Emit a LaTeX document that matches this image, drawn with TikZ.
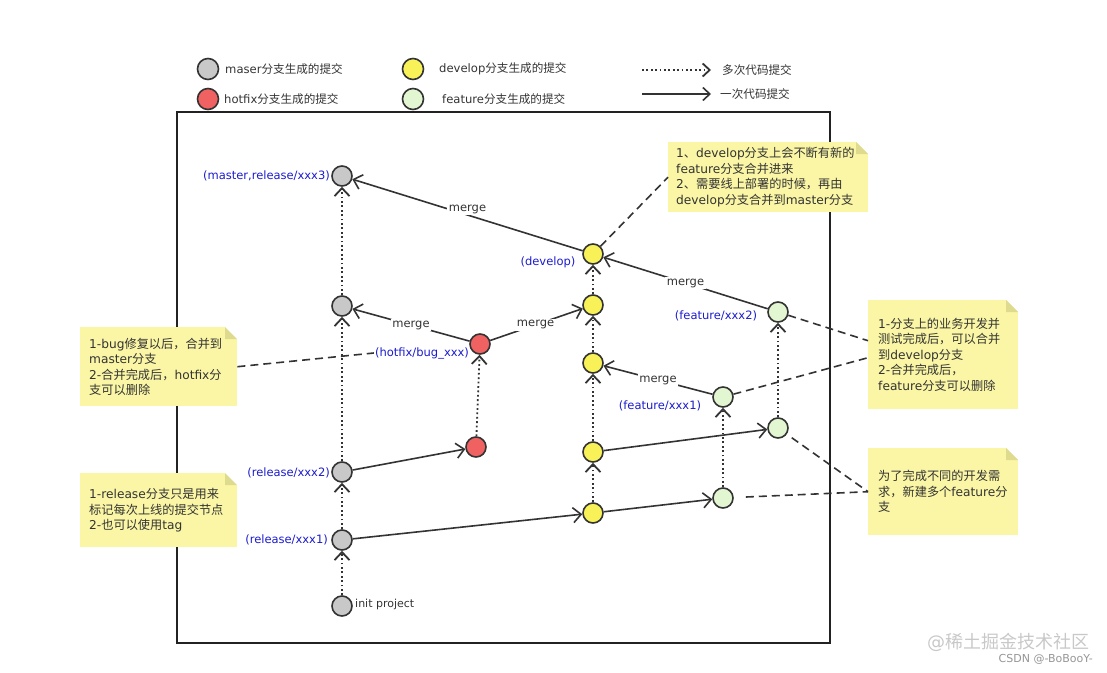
\documentclass[tikz,border=0pt]{standalone}
\usepackage{fontspec}
\setmainfont{DejaVu Sans}
\newfontfamily\zhfont{Noto Sans CJK SC}
\usetikzlibrary{arrows.meta,calc}
\XeTeXinterchartokenstate=1
\newXeTeXintercharclass\zhcls
\newcount\zhcnt
\zhcnt="3000 \loop\ifnum\zhcnt<"3040 \XeTeXcharclass\zhcnt=\zhcls \advance\zhcnt by 1 \repeat
\zhcnt="4E00 \loop\ifnum\zhcnt<"A000 \XeTeXcharclass\zhcnt=\zhcls \advance\zhcnt by 1 \repeat
\zhcnt="FF00 \loop\ifnum\zhcnt<"FFF0 \XeTeXcharclass\zhcnt=\zhcls \advance\zhcnt by 1 \repeat
\XeTeXinterchartoks 0 \zhcls = {\zhfont}
\XeTeXinterchartoks 4095 \zhcls = {\zhfont}
\XeTeXinterchartoks \zhcls 0 = {\normalfont}
\XeTeXinterchartoks \zhcls 4095 = {\normalfont}
\definecolor{linec}{RGB}{51,51,51}
\definecolor{framec}{RGB}{34,34,34}
\definecolor{graycol}{RGB}{200,200,200}
\definecolor{redcol}{RGB}{240,98,98}
\definecolor{yelcol}{RGB}{248,242,88}
\definecolor{grncol}{RGB}{226,246,210}
\definecolor{bluec}{RGB}{28,28,205}
\definecolor{notey}{RGB}{250,246,165}
\definecolor{notefold}{RGB}{222,218,142}
\definecolor{wmA}{RGB}{200,200,200}
\definecolor{wmB}{RGB}{150,150,150}
\begin{document}
\begin{tikzpicture}[x=1pt,y=-1pt,
  commit/.style={circle,draw=linec,line width=1.6pt,minimum size=20pt,inner sep=0pt},
  gc/.style={commit,fill=graycol},
  rc/.style={commit,fill=redcol},
  yc/.style={commit,fill=yelcol},
  fc/.style={commit,fill=grncol},
  barb/.style={-{Straight Barb[length=8pt,width=15pt]}},
  smallbarb/.style={-{Straight Barb[length=7pt,width=13pt]}},
  many/.style={draw=linec,line width=1.8pt,dash pattern=on 1.8pt off 2.6pt,barb},
  once/.style={draw=linec,line width=1.6pt,barb},
  notelink/.style={draw=linec,line width=1.6pt,dash pattern=on 8pt off 5pt},
  mlabel/.style={fill=white,inner sep=1.5pt,text=linec,font=\fontsize{11.5}{13}\selectfont},
  blab/.style={text=bluec,inner sep=1pt,font=\fontsize{11.5}{13}\selectfont},
  legtext/.style={anchor=west,inner sep=0pt,text=linec,font=\fontsize{11.6}{13}\selectfont},
  notebox/.style={fill=notey,align=left,inner ysep=0pt,text=linec,
    font=\fontsize{12.2}{15.5}\selectfont,
    path picture={
      \fill[white] ([xshift=-12pt]path picture bounding box.north east) -- (path picture bounding box.north east) -- ([yshift=-12pt]path picture bounding box.north east) -- cycle;
      \fill[notefold] ([xshift=-12pt]path picture bounding box.north east) -- ([xshift=-12pt,yshift=-12pt]path picture bounding box.north east) -- ([yshift=-12pt]path picture bounding box.north east) -- cycle;
    }},
]
\useasboundingbox (0,0) rectangle (1107,672);

% frame
\draw[framec,line width=2pt] (177,112) rectangle (830,643);

% legend
\node[gc,minimum size=21pt] (lgm) at (208,69) {};
\node[legtext] (lgmt) at (225,69) {maser分支生成的提交};
\node[rc,minimum size=21pt] (lgh) at (208,99) {};
\node[legtext] (lght) at (224,99) {hotfix分支生成的提交};
\node[yc,minimum size=21pt] (lgd) at (413,69) {};
\node[legtext] (lgdt) at (439,69) {develop分支生成的提交};
\node[fc,minimum size=21pt] (lgf) at (413,99) {};
\node[legtext] (lgft) at (442,99) {feature分支生成的提交};
\coordinate (lga1) at (642,70);
\coordinate (lga2) at (711,70);
\coordinate (lgb1) at (642,94);
\coordinate (lgb2) at (711,94);
\draw[many,smallbarb] (lga1) -- (lga2);
\draw[once,smallbarb] (lgb1) -- (lgb2);
\node[legtext] (lgat) at (722,70) {多次代码提交};
\node[legtext] (lgbt) at (720,94) {一次代码提交};

% commits
\node[gc] (m3) at (342,176) {};
\node[gc] (m2) at (342,306) {};
\node[gc] (r2) at (342,472) {};
\node[gc] (r1) at (342,540) {};
\node[gc] (init) at (342,606) {};
\node[rc] (h2) at (480,344) {};
\node[rc] (h1) at (476,447) {};
\node[yc] (d5) at (593,254) {};
\node[yc] (d4) at (593,305) {};
\node[yc] (d3) at (593,363) {};
\node[yc] (d2) at (593,452) {};
\node[yc] (d1) at (593,513) {};
\node[fc] (f1a) at (723,498) {};
\node[fc] (f1b) at (723,397) {};
\node[fc] (f2a) at (778,428) {};
\node[fc] (f2b) at (778,312) {};

% labels
\node[blab,anchor=east] (lm3) at (331,176) {(master,release/xxx3)};
\node[blab] (ld5) at (548,262) {(develop)};
\node[blab] (lh2) at (422,353) {(hotfix/bug\_xxx)};
\node[blab] (lf2) at (716,316) {(feature/xxx2)};
\node[blab] (lf1) at (660,406) {(feature/xxx1)};
\node[blab,anchor=east] (lr2) at (331,473) {(release/xxx2)};
\node[blab,anchor=east] (lr1) at (329,540) {(release/xxx1)};
\node[anchor=west,inner sep=0pt,text=linec,font=\fontsize{11}{13}\selectfont] (linit) at (355,604) {init project};

% multi-commit (dotted) connectors
\draw[many] (init) -- (r1);
\draw[many] (r1) -- (r2);
\draw[many] (r2) -- (m2);
\draw[many] (m2) -- (m3);
\draw[many] (h1) -- (h2);
\draw[many] (d1) -- (d2);
\draw[many] (d2) -- (d3);
\draw[many] (d3) -- (d4);
\draw[many] (d4) -- (d5);
\draw[many] (f1a) -- (f1b);
\draw[many] (f2a) -- (f2b);

% single-commit connectors
\draw[once] (r1) -- (d1);
\draw[once] (r2) -- (h1);
\draw[once] (d1) -- (f1a);
\draw[once] (d2) -- (f2a);
\draw[once] (h2) -- node[mlabel,pos=0.5] {merge} (m2);
\draw[once] (h2) -- node[mlabel,pos=0.49] {merge} (d4);
\draw[once] (f1b) -- node[mlabel,pos=0.5] {merge} (d3);
\draw[once] (f2b) -- node[mlabel,pos=0.5] {merge} (d5);
\draw[once] (d5) -- node[mlabel,pos=0.5,yshift=6pt] {merge} (m3);

% notes
\node[notebox,anchor=north west,text width=184pt,inner xsep=8pt,minimum height=70pt] (n1) at (668,142)
  {1、develop分支上会不断有新的\\feature分支合并进来\\2、需要线上部署的时候，再由\\develop分支合并到master分支};
\node[notebox,anchor=north west,text width=139pt,inner xsep=9pt,minimum height=79pt] (nh) at (80,327)
  {1-bug修复以后，合并到\\master分支\\2-合并完成后，hotfix分\\支可以删除};
\node[notebox,anchor=north west,text width=139pt,inner xsep=9pt,minimum height=74pt] (nr) at (80,473)
  {1-release分支只是用来\\标记每次上线的提交节点\\2-也可以使用tag};
\node[notebox,anchor=north west,text width=130pt,inner xsep=10pt,minimum height=109pt] (n3) at (868,300)
  {1-分支上的业务开发并\\测试完成后，可以合并\\到develop分支\\2-合并完成后，\\feature分支可以删除};
\node[notebox,anchor=north west,text width=130pt,inner xsep=10pt,minimum height=87pt] (n4) at (868,448)
  {为了完成不同的开发需\\求，新建多个feature分\\支};

% note links
\coordinate (n3a) at ([yshift=14pt]n3.west);
\coordinate (n3b) at ([yshift=-3pt]n3.west);
\draw[notelink] (d5) -- (n1.west);
\draw[notelink] (nh.east) -- (lh2.west);
\draw[notelink] (f2b) -- (n3a);
\draw[notelink] (f1b) -- (n3b);
\draw[notelink,shorten <=6pt] (f2a) -- (n4.west);
\draw[notelink,shorten <=12pt] (f1a) -- (n4.west);

% watermark
\node[anchor=west,inner sep=0pt,text=wmA,font=\fontsize{18}{20}\selectfont] (wm1) at (927,642) {@稀土掘金技术社区};
\node[anchor=east,inner sep=0pt,text=wmB,font=\fontsize{11}{13}\selectfont] (wm2) at (1093,659) {CSDN @-BoBooY-};
\end{tikzpicture}
\end{document}
